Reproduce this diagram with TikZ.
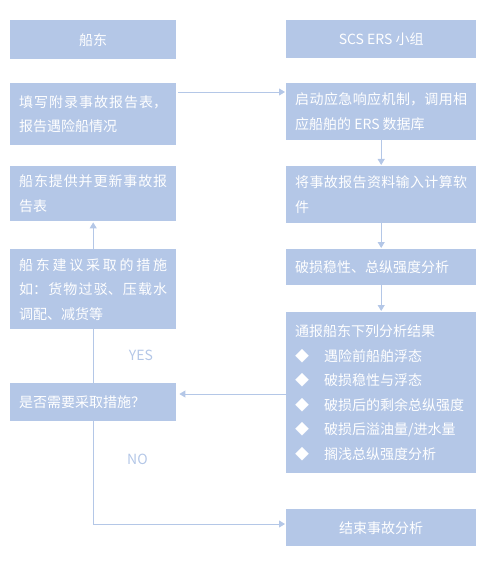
\documentclass[tikz,border=0pt]{standalone}
\usepackage{fontspec}
\setmainfont{Noto Sans CJK SC}
\usepackage{xcolor}
\usepackage{tikz}
\usetikzlibrary{arrows.meta, positioning, calc}
\definecolor{boxblue}{HTML}{B4C7E7}
\definecolor{lineblue}{HTML}{B4C7E7}
\XeTeXlinebreaklocale "zh"
\XeTeXlinebreakskip=0pt plus 3pt

\tikzset{
  box/.style={fill=boxblue, text=white, anchor=north west, inner xsep=9pt, inner ysep=0pt,
    font=\fontsize{14pt}{24.5pt}\selectfont},
  leftbox/.style={box, text width=148pt},
  rightbox/.style={box, text width=172pt},
  headbox/.style={box, minimum width=#1},
  arr/.style={draw=lineblue, line width=0.9pt, -{Triangle[length=6pt,width=7pt]}, shorten >=1pt},
  link/.style={draw=lineblue, line width=0.9pt},
  answer/.style={text=boxblue, font=\fontsize{14pt}{16pt}\selectfont}
}

\begin{document}
\begin{tikzpicture}[x=1pt, y=-1pt]
\useasboundingbox (0,0) rectangle (490,561);

% Column headers
\node[headbox=166pt, minimum height=39pt] (owner) at (10,20) {船东};
\node[headbox=190pt, minimum height=38pt] (ers) at (286,20) {SCS ERS 小组};

% Ship owner side
\node[leftbox, align=justify, minimum height=62pt] (fill) at (10,83) {填写附录事故报告表，报告遇险船情况};
\node[leftbox, align=justify, minimum height=55pt] (update) at (10,166) {船东提供并更新事故报告表};
\node[leftbox, align=justify, minimum height=80pt] (advise) at (10,249)
  {船东建议采取的措施\linebreak 如：货物过驳、压载水\linebreak 调配、减货等};
\node[leftbox, align=left, minimum height=38pt] (decide) at (10,383) {是否需要采取措施？};

% ERS team side
\node[rightbox, align=justify, minimum height=57pt] (start) at (286,83) {启动应急响应机制，调用相应船舶的 ERS 数据库};
\node[rightbox, align=justify, minimum height=57pt] (input) at (286,166) {将事故报告资料输入计算软件};
\node[rightbox, align=left, minimum height=36pt] (analyse) at (286,249) {破损稳性、总纵强度分析};
\node[rightbox, align=left, minimum height=161pt] (notify) at (286,312)
  {通报船东下列分析结果\\
   \makebox[29pt][l]{◆}遇险前船舶浮态\\
   \makebox[29pt][l]{◆}破损稳性与浮态\\
   \makebox[29pt][l]{◆}破损后的剩余总纵强度\\
   \makebox[29pt][l]{◆}破损后溢油量/进水量\\
   \makebox[29pt][l]{◆}搁浅总纵强度分析\\[-4pt]};
\node[headbox=190pt, minimum height=37pt] (finish) at (286,509) {结束事故分析};

% Connectors
\coordinate (fout) at ([shift={(2,9)}]fill.north east);
\draw[arr] (fout) -- (fout -| start.west);
\draw[arr] (start) -- (input);
\draw[arr] (input) -- (analyse);
\draw[arr] (analyse) -- (notify);
\coordinate (qin) at ([shift={(2,11)}]decide.north east);
\draw[arr] (notify.west |- qin) -- (qin);
\draw[link] (decide) -- (advise);
\draw[arr] (advise) -- (update);
\coordinate (nend) at ([shift={(0,15)}]finish.north west);
\draw[arr] (decide.south) |- (nend);

% Answers
\node[answer] (yes) at (141,355) {YES};
\node[answer] (no) at (137.5,459) {NO};

\end{tikzpicture}
\end{document}
